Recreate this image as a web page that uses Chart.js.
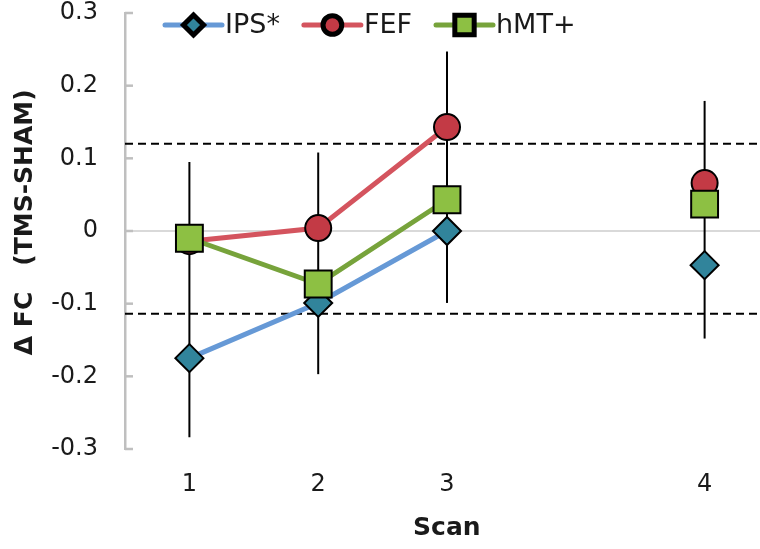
<!DOCTYPE html>
<html>
<head>
<meta charset="utf-8">
<script src="https://cdn.jsdelivr.net/npm/chart.js@4.4.1/dist/chart.umd.min.js"></script>
<style>
  html, body { margin: 0; padding: 0; background: #fff; }
  #wrap { width: 760px; height: 549px; }
</style>
</head>
<body>
<div id="wrap"><canvas id="myChart" width="760" height="549"></canvas></div>
<script>
// Veriler
const scans = ['1', '2', '3', '4'];
const scanX = [1, 2, 3, 5];   // scan 4 sits apart from the others
const ips = [-0.175, -0.099, 0.0, -0.047];
const fef = [-0.014, 0.004, 0.143, 0.066];
const hmt = [-0.010, -0.073, 0.043, 0.037];
const errHigh = [0.095, 0.108, 0.247, 0.179];
const errLow = [-0.284, -0.197, -0.099, -0.148];
const thresholds = [0.12, -0.114];
const yTicks = [-0.3, -0.2, -0.1, 0, 0.1, 0.2, 0.3];

const X_MIN = 0.5, X_MAX = 5.43;
const TXT = '#1a1a1a';

const toPoints = arr => arr.map((v, i) => ({ x: scanX[i], y: v }));

// Hata çubukları (işaretlerin arkasında) ve içe doğru eksen çentikleri
const errorBars = {
  id: 'errorBars',
  beforeDatasetsDraw(chart) {
    const { ctx, scales: { x, y } } = chart;
    ctx.save();
    ctx.strokeStyle = '#000';
    ctx.lineWidth = 2;
    scanX.forEach((sx, i) => {
      const px = x.getPixelForValue(sx);
      ctx.beginPath();
      ctx.moveTo(px, y.getPixelForValue(errHigh[i]));
      ctx.lineTo(px, y.getPixelForValue(errLow[i]));
      ctx.stroke();
    });
    ctx.strokeStyle = '#BFBFBF';
    ctx.lineWidth = 2.5;
    yTicks.forEach(v => {
      const py = y.getPixelForValue(v);
      ctx.beginPath();
      ctx.moveTo(x.left, py);
      ctx.lineTo(x.left + 8, py);
      ctx.stroke();
    });
    ctx.restore();
  }
};

// Çizgi + işaretli lejant
const lineLegend = {
  id: 'lineLegend',
  afterDraw(chart) {
    const ctx = chart.ctx;
    let x = 165;
    const y = 25;
    ctx.save();
    ctx.font = '27px "DejaVu Sans"';
    ctx.textBaseline = 'middle';
    chart.data.datasets.filter(d => d.inLegend).forEach(ds => {
      ctx.strokeStyle = ds.borderColor;
      ctx.lineWidth = 5;
      ctx.lineCap = 'round';
      ctx.beginPath();
      ctx.moveTo(x, y);
      ctx.lineTo(x + 57, y);
      ctx.stroke();
      ctx.fillStyle = ds.pointBackgroundColor;
      ctx.strokeStyle = '#000';
      Chart.helpers.drawPoint(ctx, {
        pointStyle: ds.pointStyle,
        radius: ds.pointRadius * 0.72,
        rotation: 0,
        borderWidth: 2
      }, x + 28.5, y);
      ctx.fillStyle = TXT;
      ctx.fillText(ds.label, x + 60, y + 1);
      x += 60 + ctx.measureText(ds.label).width + 24;
    });
    ctx.restore();
  }
};

// scan 3 ile scan 4 arasını çizgiyle bağlama
const noGapLine = c => (c.p1.parsed.x - c.p0.parsed.x > 1 ? 'rgba(0,0,0,0)' : undefined);

const dashed = (v) => ({
  type: 'line',
  data: [{ x: X_MIN, y: v }, { x: X_MAX, y: v }],
  borderColor: '#000',
  borderWidth: 2,
  borderDash: [8, 5],
  pointRadius: 0,
  order: 3
});

const series = (label, data, line, fill, style, r, order) => ({
  label, data: toPoints(data), inLegend: true,
  borderColor: line, borderWidth: 5,
  segment: { borderColor: noGapLine },
  pointStyle: style, pointRadius: r,
  pointBackgroundColor: fill, pointBorderColor: '#000', pointBorderWidth: 2,
  order
});

const ctx = document.getElementById('myChart').getContext('2d');
new Chart(ctx, {
  type: 'line',
  data: {
    datasets: [
      series('IPS*', ips, '#6699D6', '#31849B', 'rectRot', 14, 2),
      series('FEF', fef, '#D4545E', '#C33A45', 'circle', 13, 1),
      series('hMT+', hmt, '#77A33B', '#8DC043', 'rect', 19, 0),
      ...thresholds.map(dashed)
    ]
  },
  options: {
    responsive: false,
    animation: false,
    devicePixelRatio: 1,
    layout: { autoPadding: false, padding: { top: 13, right: 0, left: 0, bottom: 0 } },
    plugins: {
      legend: { display: false },
      tooltip: { enabled: false }
    },
    scales: {
      x: {
        type: 'linear',
        min: X_MIN,
        max: X_MAX,
        afterBuildTicks: s => { s.ticks = scanX.map(v => ({ value: v })); },
        afterFit: s => { s.height = 100; s.paddingLeft = 0; s.paddingRight = 0; },
        ticks: {
          padding: 21,
          color: TXT,
          font: { family: 'DejaVu Sans', size: 24 },
          callback: v => scans[scanX.indexOf(v)]
        },
        grid: { display: false, drawTicks: false },
        border: { display: false },
        title: {
          display: true,
          text: ' Scan',
          color: TXT,
          font: { family: 'DejaVu Sans', size: 25, weight: 'bold' },
          padding: { top: 0, bottom: 6 }
        }
      },
      y: {
        min: -0.3,
        max: 0.3,
        afterBuildTicks: s => { s.ticks = yTicks.map(v => ({ value: v })); },
        afterFit: s => { s.width = 125; s.paddingTop = 0; s.paddingBottom = 0; },
        ticks: {
          padding: 27,
          color: TXT,
          font: { family: 'DejaVu Sans', size: 24 },
          callback: v => String(Math.round(v * 10) / 10)
        },
        grid: {
          drawTicks: false,
          lineWidth: 2,
          color: c => (c.tick && c.tick.value === 0 ? '#D9D9D9' : 'rgba(0,0,0,0)')
        },
        border: { display: true, color: '#BFBFBF', width: 2.5 },
        title: {
          display: true,
          text: '  Δ FC   (TMS-SHAM)',
          color: TXT,
          font: { family: 'DejaVu Sans', size: 25, weight: 'bold' },
          padding: { top: 10, bottom: 0 }
        }
      }
    }
  },
  plugins: [errorBars, lineLegend]
});
</script>
</body>
</html>
